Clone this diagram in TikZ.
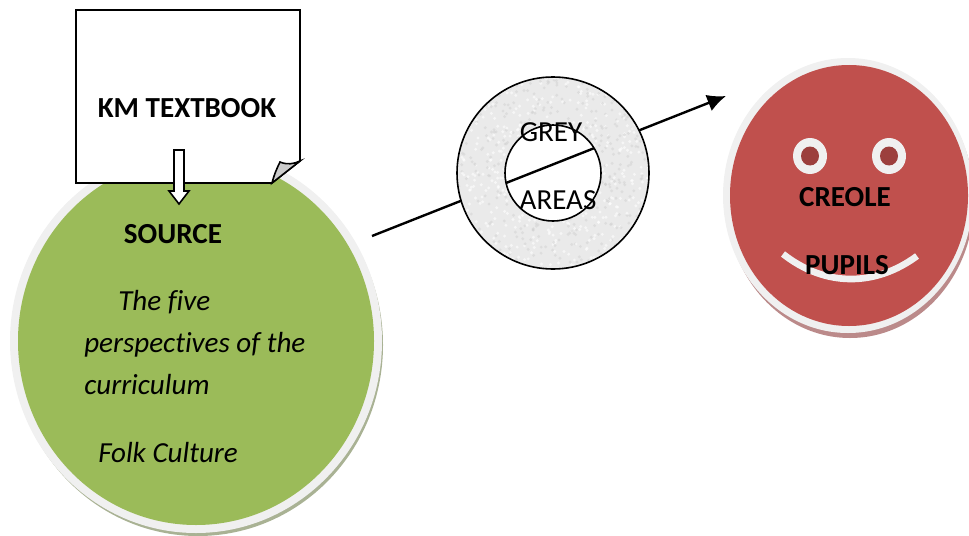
\documentclass[tikz,border=0pt]{standalone}
\usepackage{fontspec}
\setmainfont[Ligatures=NoCommon]{Carlito}
\definecolor{leafgreen}{HTML}{9BBB59}
\definecolor{leafshadow}{HTML}{A9B294}
\definecolor{brickred}{HTML}{C0504D}
\definecolor{brickshadow}{HTML}{BB8A8A}
\definecolor{darkbrick}{HTML}{9C3F3D}
\definecolor{paleband}{HTML}{F0F0F0}
\definecolor{donutgrey}{HTML}{EAEAEA}
\usetikzlibrary{arrows.meta}
\tikzset{
  boldlabel/.style={font=\fontsize{21.8}{26}\selectfont\bfseries,inner sep=0pt},
  leftlabel/.style={font=\fontsize{21.8}{26}\selectfont\itshape,anchor=base west,inner sep=0pt},
  plainlabel/.style={font=\fontsize{21.8}{26}\selectfont,inner sep=0pt},
  outline/.style={line width=1.2pt},
  flow/.style={line width=1.8pt,-{Latex[length=14pt,width=13pt]}}
}
\begin{document}
\begin{tikzpicture}[x=0.75pt,y=-0.75pt]
      \useasboundingbox (0,0) rectangle (969,535);
      % source disc
      \fill[leafshadow] (198,345) ellipse (185 and 191);
      \fill[paleband] (196,341) ellipse (186 and 192);
      \fill[leafgreen] (196,341) ellipse (178 and 184);
      % pupils face
      \fill[brickshadow] (850,200) ellipse (124 and 138);
      \fill[paleband] (848,195.5) ellipse (125 and 137.5);
      \fill[brickred] (849,195.5) ellipse (119 and 130.5);
      \fill[paleband] (810,156) ellipse (17 and 18);
      \fill[paleband] (889,156) ellipse (17 and 18);
      \fill[darkbrick] (810,156) ellipse (9 and 9.5);
      \fill[darkbrick] (889,156) ellipse (9 and 9.5);
      \draw[paleband,line width=5pt] (783,254) .. controls (825,287) and (875,287) .. (917,256);
      % textbook page
      \draw[outline,fill=white] (76,10) -- (300,10) -- (300,161) -- (272,183) -- (76,183) -- cycle;
      \draw[outline,fill=black!20] (272,183) .. controls (274,175) and (277,168) .. (280,162)
        .. controls (287,165) and (294,164) .. (300,161) -- cycle;
      \draw[outline,fill=white] (174,150) -- (184,150) -- (184,191) -- (189,191) -- (179,204)
        -- (169,191) -- (174,191) -- cycle;
      % arrow under the ring
      \coordinate (start) at (372,236);
      \coordinate (tip) at (726,96);
      \draw[flow] (start) -- (tip);
      % grey ring
      \fill[donutgrey,even odd rule] (553,173) circle (96) (553,173) circle (48);
      \begin{scope}[even odd rule]
        \clip (553,173) circle (96) (553,173) circle (48);
        \pgfmathsetseed{17}
        \foreach \i in {1,...,500}{
          \fill[black!18,opacity=0.5] ({457+rnd*192},{77+rnd*192}) circle (1.6);
          \fill[white,opacity=0.6] ({457+rnd*192},{77+rnd*192}) circle (1.6);
        }
      \end{scope}
      \draw[outline] (553,173) circle (96);
      \draw[outline] (553,173) circle (48);
      % labels
      \draw
        (187,108) node[boldlabel] (textbook){KM TEXTBOOK}
        (173,234) node[boldlabel] (source){SOURCE}
        (118,310) node[leftlabel] (five){The five}
        (84,352) node[leftlabel] (perspectives){perspectives of the}
        (84,394) node[leftlabel] (curriculum){curriculum}
        (98,462) node[leftlabel] (folk){Folk Culture}
        (551,132) node[plainlabel] (grey){GREY}
        (558,200) node[plainlabel] (areas){AREAS}
        (845,197) node[boldlabel] (creole){CREOLE}
        (847,265) node[boldlabel] (pupils){PUPILS};
    \end{tikzpicture}
\end{document}
